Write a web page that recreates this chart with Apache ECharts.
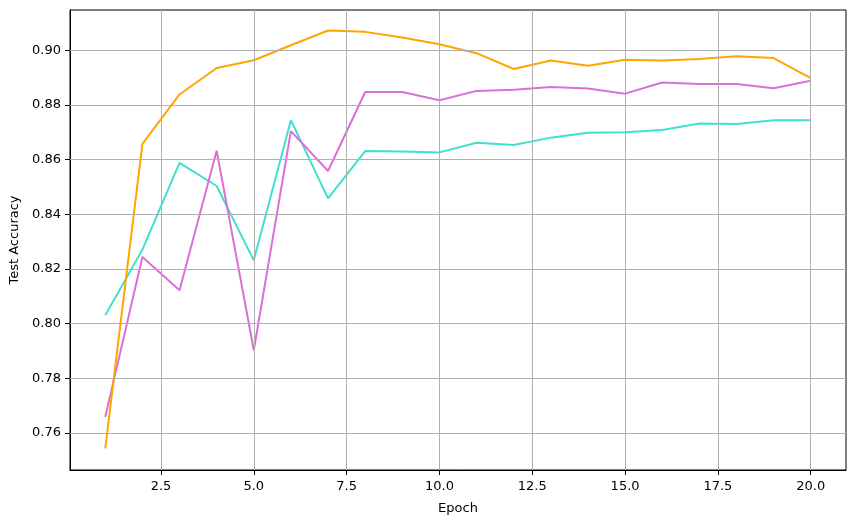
<!DOCTYPE html>
<html>
<head>
<meta charset="utf-8">
<script src="https://cdn.jsdelivr.net/npm/echarts@6/dist/echarts.min.js"></script>
<style>
  html, body { margin: 0; padding: 0; background: #fff; }
  #chart { width: 855px; height: 525px; }
</style>
</head>
<body>
<div id="chart"></div>
<script>
// epochs and test accuracy per run
const epochs = [1, 2, 3, 4, 5, 6, 7, 8, 9, 10, 11, 12, 13, 14, 15, 16, 17, 18, 19, 20]
const accOrange = [0.7543, 0.8657, 0.8838, 0.8935, 0.8963, 0.9018, 0.9072, 0.9067, 0.9046, 0.9022,
  0.8989, 0.8931, 0.8962, 0.8943, 0.8965, 0.8962, 0.8968, 0.8978, 0.8971, 0.8898]
const accTurquoise = [0.8030, 0.8270, 0.8588, 0.8503, 0.8231, 0.8744, 0.8458, 0.8631, 0.8629, 0.8626,
  0.8661, 0.8653, 0.8680, 0.8698, 0.8700, 0.8708, 0.8732, 0.8730, 0.8744, 0.8744]
const accOrchid = [0.7658, 0.8243, 0.8122, 0.8632, 0.7902, 0.8704, 0.8558, 0.8847, 0.8847, 0.8817,
  0.8851, 0.8855, 0.8865, 0.8860, 0.8841, 0.8882, 0.8876, 0.8876, 0.8861, 0.8888]

const xTicks = [2.5, 5.0, 7.5, 10.0, 12.5, 15.0, 17.5, 20.0]
const yTicks = [0.76, 0.78, 0.80, 0.82, 0.84, 0.86, 0.88, 0.90]

const FONT = "DejaVu Sans"
const GRID_COLOR = "#b0b0b0"

const toPairs = (vals) => epochs.map((e, i) => [e, vals[i]])

const lineSeries = (name, color, vals) => ({
  name,
  type: "line",
  z: 3,
  showSymbol: false,
  symbol: "none",
  lineStyle: { color, width: 2 },
  itemStyle: { color },
  data: toPairs(vals),
})

// grid lines at the tick values (splitLine ignores customValues)
const gridSeries = {
  name: "grid",
  type: "line",
  z: 1,
  silent: true,
  data: [],
  markLine: {
    silent: true,
    symbol: ["none", "none"],
    label: { show: false },
    emphasis: { disabled: true },
    animation: false,
    lineStyle: { color: GRID_COLOR, width: 1, type: "solid" },
    data: [
      ...xTicks.map((v) => ({ xAxis: v })),
      ...yTicks.map((v) => ({ yAxis: v })),
    ],
  },
}

const chart = echarts.init(document.getElementById("chart"))
chart.setOption({
  animation: false,
  textStyle: { fontFamily: FONT },
  grid: {
    left: 70,
    right: 9,
    top: 10,
    bottom: 55,
    show: true,
    borderColor: "#000",
    borderWidth: 1,
    containLabel: false,
    outerBoundsMode: "none",
  },
  xAxis: {
    type: "value",
    min: 0.05,
    max: 20.95,
    name: "Epoch",
    nameLocation: "middle",
    nameGap: 32,
    nameTextStyle: { color: "#000", fontSize: 13, fontFamily: FONT },
    axisLine: { show: true, lineStyle: { color: "#000", width: 1 } },
    axisTick: { show: true, inside: false, length: 5, lineStyle: { color: "#000" }, customValues: xTicks },
    axisLabel: {
      color: "#000",
      fontSize: 13,
      fontFamily: FONT,
      margin: 10,
      customValues: xTicks,
      formatter: (v) => v.toFixed(1),
    },
    splitLine: { show: false },
  },
  yAxis: {
    type: "value",
    min: 0.7464,
    max: 0.9147,
    name: "Test Accuracy",
    nameLocation: "middle",
    nameGap: 44,
    nameTextStyle: { color: "#000", fontSize: 13, fontFamily: FONT },
    axisLine: { show: true, lineStyle: { color: "#000", width: 1 } },
    axisTick: { show: true, inside: false, length: 5, lineStyle: { color: "#000" }, customValues: yTicks },
    axisLabel: {
      color: "#000",
      fontSize: 13,
      fontFamily: FONT,
      margin: 9,
      customValues: yTicks,
      formatter: (v) => v.toFixed(2),
    },
    splitLine: { show: false },
  },
  series: [
    gridSeries,
    lineSeries("turquoise", "#40E0D0", accTurquoise),
    lineSeries("orchid", "#DA70D6", accOrchid),
    lineSeries("orange", "#FFA500", accOrange),
  ],
})
</script>
</body>
</html>
